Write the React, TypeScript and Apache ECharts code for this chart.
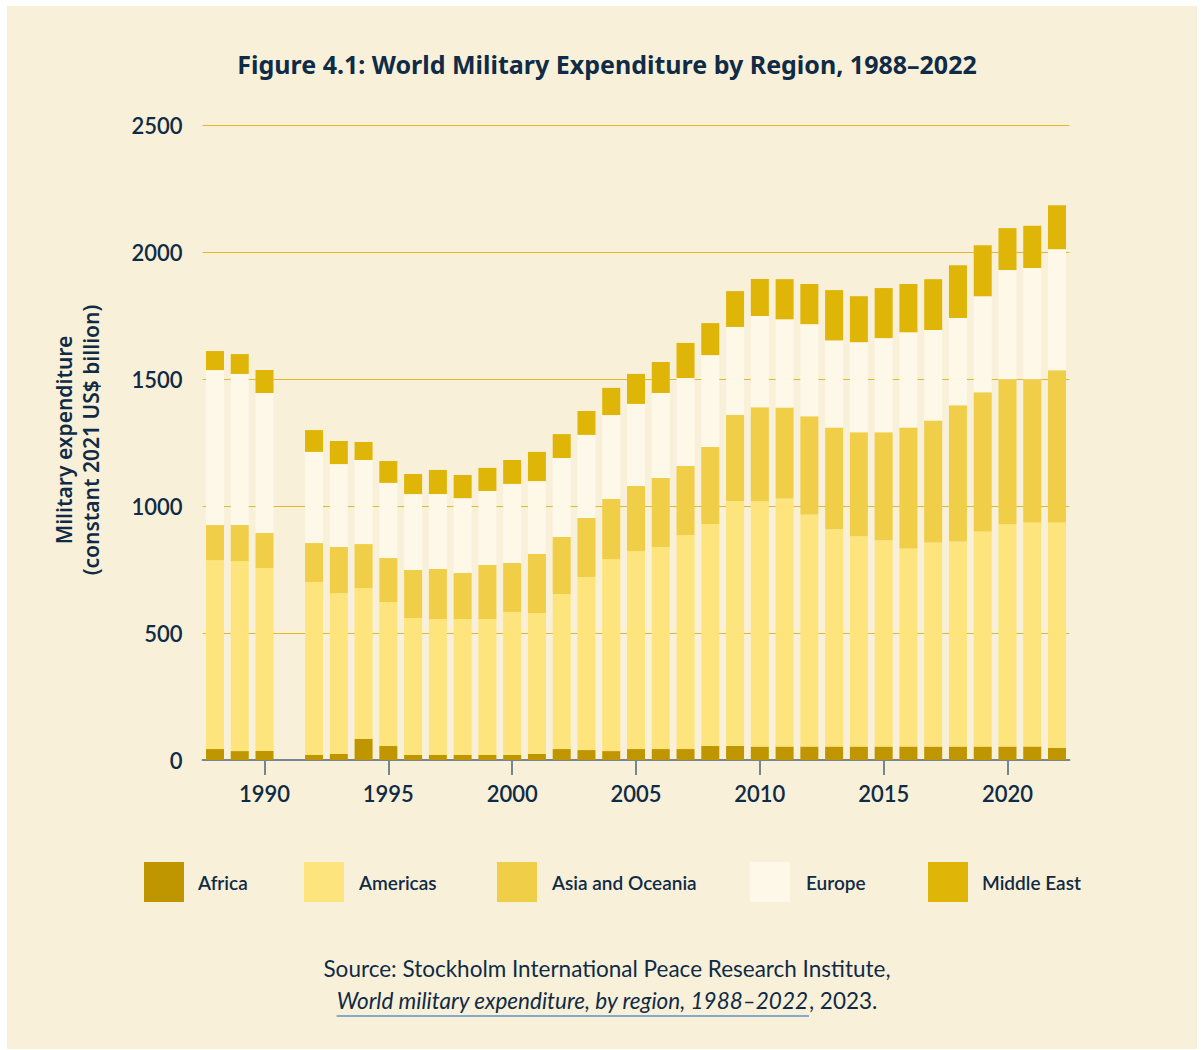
import React, { useEffect, useRef } from "react";
import * as echarts from "echarts";

// ---------- data ----------
const years = [
  1988, 1989, 1990, 1992, 1993, 1994, 1995, 1996, 1997, 1998, 1999, 2000, 2001,
  2002, 2003, 2004, 2005, 2006, 2007, 2008, 2009, 2010, 2011, 2012, 2013, 2014,
  2015, 2016, 2017, 2018, 2019, 2020, 2021, 2022,
];
const africa = [
  43, 35, 35, 20, 24, 83, 55, 20, 20, 20, 20, 20, 24, 43, 39, 35, 43, 43, 43, 55,
  55, 53, 53, 53, 53, 53, 53, 53, 53, 53, 53, 53, 53, 48,
];
const americas = [
  744, 748, 721, 681, 633, 594, 567, 539, 535, 535, 535, 563, 555, 611, 681, 756,
  780, 796, 843, 874, 965, 966, 977, 914, 855, 828, 812, 780, 803, 807, 847, 875,
  882, 887,
];
const asiaOceania = [
  138, 142, 138, 153, 182, 173, 173, 189, 197, 181, 213, 193, 232, 224, 233, 237,
  256, 271, 271, 303, 338, 370, 358, 386, 401, 409, 425, 476, 481, 537, 548, 571,
  564, 599,
];
const europe = [
  610, 595, 551, 359, 326, 331, 296, 299, 295, 295, 291, 311, 287, 311, 327, 330,
  323, 335, 347, 362, 347, 359, 347, 363, 343, 355, 371, 375, 356, 343, 378, 430,
  438, 477,
];
const middleEast = [
  75, 78, 90, 86, 91, 71, 86, 79, 95, 91, 91, 94, 115, 94, 94, 107, 118, 122, 138,
  126, 141, 146, 158, 158, 198, 181, 197, 190, 200, 208, 201, 165, 166, 173,
];
const regionNames = ["Africa", "Americas", "Asia and Oceania", "Europe", "Middle East"];
const regionColors = ["#BF9600", "#FDE47D", "#F0CE48", "#FEF8E8", "#DFB507"];
const xTickYears = [1990, 1995, 2000, 2005, 2010, 2015, 2020];

const titleText = "Figure 4.1: World Military Expenditure by Region, 1988–2022";
const yAxisTitle = "Military expenditure\n(constant 2021 US$ billion)";
const sourceLine1 = "Source: Stockholm International Peace Research Institute,";
const sourceItalic = "World military expenditure, by region, 1988–2022";
const sourceTail = ", 2023.";

// ---------- styles / layout ----------
const NAVY = "#0F2B46";
const BG = "#F9F0D9";
const FONT = "Lato";
const FONT2 = "Noto Sans";
const legendRectX = [137, 297, 490, 743, 921];
const legendTextX = [191, 352, 545, 799, 975];

function measure(text: string, font: string): number {
  const c = document.createElement("canvas").getContext("2d");
  if (!c) return text.length * 10;
  c.font = font;
  return c.measureText(text).width;
}

export default function App() {
  const ref = useRef<HTMLDivElement>(null);

  useEffect(() => {
    if (!ref.current) return;
    const chart = echarts.init(ref.current, null, { renderer: "svg" });
    const seriesValues = [africa, americas, asiaOceania, europe, middleEast];

    // full run of category years (a year without data stays empty)
    const allYears: string[] = [];
    for (let y = years[0]; y <= years[years.length - 1]; y++) allYears.push(String(y));
    const showTick = (_i: number, v: string) => xTickYears.includes(Number(v));

    const srcFont = 22.5;
    const wI = measure(sourceItalic, `italic ${srcFont}px ${FONT}`);
    const wN = measure(sourceTail, `${srcFont}px ${FONT}`);
    const startX = 600 - (wI + wN) / 2;

    const legendGraphics: any[] = [];
    regionNames.forEach((name, i) => {
      legendGraphics.push({
        type: "rect",
        shape: { x: legendRectX[i], y: 856, width: 40, height: 40 },
        style: { fill: regionColors[i] },
      });
      legendGraphics.push({
        type: "text",
        x: legendTextX[i],
        y: 876,
        style: {
          text: name,
          fontSize: 19,
          fontWeight: 600,
          fontFamily: FONT,
          fill: NAVY,
          align: "left",
          verticalAlign: "middle",
        },
      });
    });

    chart.setOption({
      animation: false,
      backgroundColor: BG,
      textStyle: { fontFamily: FONT },
      grid: { left: 195.6, top: 119, width: 866.8, height: 635, containLabel: false },
      xAxis: {
        type: "category",
        data: allYears,
        boundaryGap: true,
        splitLine: { show: false },
        axisLine: { show: true, lineStyle: { color: "#76868F", width: 2 } },
        axisTick: {
          show: true,
          alignWithLabel: true,
          length: 15,
          interval: showTick,
          lineStyle: { color: "#76868F", width: 2 },
        },
        axisLabel: {
          interval: showTick,
          fontSize: 22,
          fontWeight: 600,
          fontFamily: FONT,
          color: NAVY,
          margin: 22,
        },
      },
      yAxis: {
        type: "value",
        min: 0,
        max: 2500,
        interval: 500,
        axisLine: { show: false },
        axisTick: { show: false },
        splitLine: { show: true, lineStyle: { color: "#E2B92C", width: 1 } },
        axisLabel: {
          fontSize: 22,
          fontWeight: 600,
          fontFamily: FONT,
          color: NAVY,
          margin: 20,
          formatter: (v: number) => String(v),
        },
      },
      series: regionNames.map((name, i) => ({
        name,
        type: "bar",
        stack: "total",
        barWidth: 18,
        itemStyle: { color: regionColors[i] },
        data: allYears.map((y) => {
          const j = years.indexOf(Number(y));
          return j < 0 ? "-" : seriesValues[i][j];
        }),
      })),
      graphic: [
        {
          type: "text",
          x: 600,
          y: 57.5,
          style: {
            text: titleText,
            fontSize: 25,
            fontWeight: "bold",
            fontFamily: FONT2,
            fill: NAVY,
            align: "center",
            verticalAlign: "middle",
          },
        },
        {
          type: "text",
          x: 70,
          y: 434,
          rotation: Math.PI / 2,
          style: {
            text: yAxisTitle,
            fontSize: 21,
            fontWeight: 600,
            fontFamily: FONT2,
            fill: NAVY,
            lineHeight: 27,
            align: "center",
            verticalAlign: "middle",
          },
        },
        ...legendGraphics,
        {
          type: "text",
          x: 600,
          y: 962,
          style: {
            text: sourceLine1,
            fontSize: srcFont,
            fontFamily: FONT,
            fill: NAVY,
            align: "center",
            verticalAlign: "middle",
          },
        },
        {
          type: "text",
          x: startX,
          y: 994.5,
          style: {
            text: `{i|${sourceItalic}}{n|${sourceTail}}`,
            align: "left",
            verticalAlign: "middle",
            rich: {
              i: { fontSize: srcFont, fontFamily: FONT, fontStyle: "italic", fill: NAVY },
              n: { fontSize: srcFont, fontFamily: FONT, fill: NAVY },
            },
          },
        },
        {
          type: "line",
          shape: { x1: startX, y1: 1010, x2: startX + wI, y2: 1010 },
          style: { stroke: "#5B93C2", lineWidth: 1.5 },
        },
      ],
    });

    return () => chart.dispose();
  }, []);

  return (
    <div style={{ position: "relative", width: 1204, height: 1050, background: "#FFFFFF" }}>
      <style>{"body{margin:0}"}</style>
      <div
        ref={ref}
        style={{ position: "absolute", left: 7, top: 6, width: 1190, height: 1043 }}
      />
    </div>
  );
}
